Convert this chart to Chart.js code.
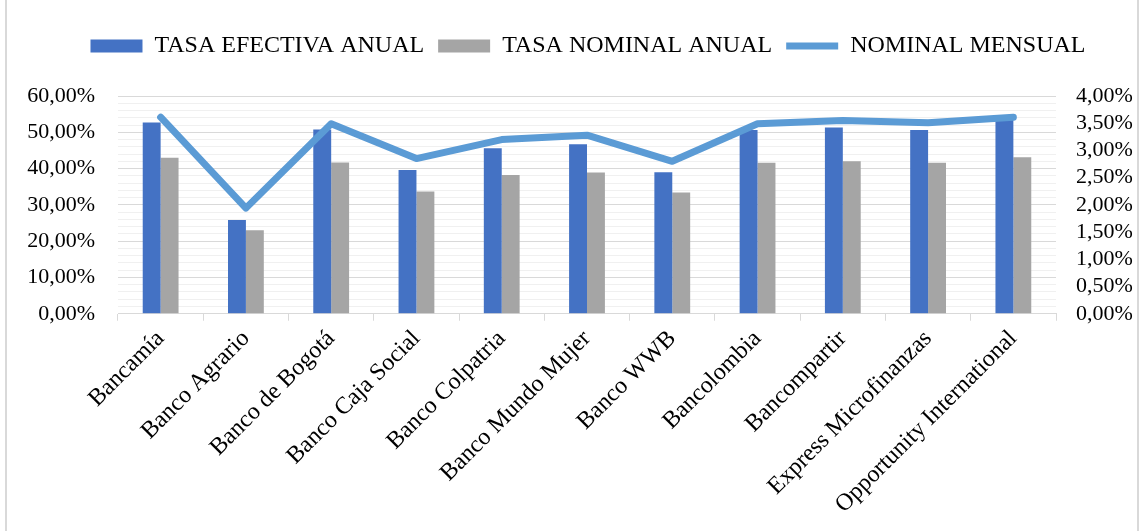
<!DOCTYPE html>
<html>
<head>
<meta charset="utf-8">
<script src="https://cdn.jsdelivr.net/npm/chart.js@4.4.1/dist/chart.umd.min.js"></script>
<style>
  body { margin: 0; background: #fff; }
  .frame { position: absolute; left: 5px; top: -2px; width: 1134px; height: 540px; border: 2px solid #d9d9d9; box-sizing: border-box; }
  .wrap { position: absolute; left: 0; top: 0; width: 1146px; height: 531px; }
</style>
</head>
<body>
<div class="frame"></div>
<div class="wrap"><canvas id="chart"></canvas></div>
<script>
// data
const banks = ['Bancamía', 'Banco Agrario', 'Banco de Bogotá', 'Banco Caja Social', 'Banco Colpatria',
    'Banco Mundo Mujer', 'Banco WWB', 'Bancolombia', 'Bancompartir', 'Express Microfinanzas', 'Opportunity International']
const tasaEfectivaAnual = [52.7, 25.8, 50.8, 39.6, 45.6, 46.7, 39.0, 50.6, 51.3, 50.6, 53.4]
const tasaNominalAnual = [43.0, 23.0, 41.7, 33.7, 38.2, 38.9, 33.4, 41.6, 42.0, 41.6, 43.1]
const nominalMensual = [3.61, 1.94, 3.49, 2.85, 3.20, 3.28, 2.80, 3.49, 3.55, 3.51, 3.61]
const leftTicks = [0, 10, 20, 30, 40, 50, 60]
const rightTicks = [0, 0.5, 1, 1.5, 2, 2.5, 3, 3.5, 4]

const fmt = v => v.toFixed(2).replace('.', ',') + '%'
const serif = 'Liberation Serif'

// extra room under the legend, and nudge it a bit right
const legendTweak = {
    id: 'legendTweak',
    beforeInit(chart) {
        const fit = chart.legend.fit
        chart.legend.fit = function () {
            fit.bind(chart.legend)()
            this.height += 28
        }
    },
    afterUpdate(chart) {
        chart.legend.left += 10
        chart.legend.right += 10
    }
}

const ctx = document.getElementById('chart').getContext('2d')
new Chart(ctx, {
    type: 'bar',
    data: {
        labels: banks,
        datasets: [{
            label: 'TASA EFECTIVA ANUAL',
            data: tasaEfectivaAnual,
            backgroundColor: '#4472C4',
            borderWidth: 0,
            pointStyle: 'rect',
            yAxisID: 'y',
            order: 1
        }, {
            label: 'TASA NOMINAL ANUAL',
            data: tasaNominalAnual,
            backgroundColor: '#A5A5A5',
            borderWidth: 0,
            pointStyle: 'rect',
            yAxisID: 'y',
            order: 1
        }, {
            type: 'line',
            label: 'NOMINAL MENSUAL',
            data: nominalMensual,
            borderColor: '#5B9BD5',
            backgroundColor: '#5B9BD5',
            borderWidth: 7,
            borderCapStyle: 'round',
            borderJoinStyle: 'round',
            pointRadius: 0,
            pointStyle: 'line',
            tension: 0,
            yAxisID: 'y1',
            order: 0
        }]
    },
    options: {
        responsive: true,
        maintainAspectRatio: false,
        animation: false,
        categoryPercentage: 0.42,
        barPercentage: 1,
        layout: { padding: { left: 10, right: 0, top: 20, bottom: 8 } },
        plugins: {
            tooltip: { enabled: false },
            legend: {
                position: 'top',
                labels: {
                    usePointStyle: true,
                    pointStyleWidth: 52,
                    boxHeight: 13,
                    padding: 14,
                    color: '#000',
                    font: { family: serif, size: 24 },
                    sort: (a, b) => a.datasetIndex - b.datasetIndex
                }
            }
        },
        scales: {
            x: {
                offset: true,
                grid: { offset: true, drawOnChartArea: false, drawTicks: true, tickLength: 7, color: '#d9d9d9' },
                border: { color: '#d9d9d9' },
                ticks: { maxRotation: 45, minRotation: 45, color: '#000', padding: 4, font: { family: serif, size: 24 } }
            },
            y: {
                position: 'left',
                min: 0,
                max: 60,
                afterBuildTicks: axis => {
                    const t = []
                    for (let v = 0; v <= 60; v += 2) t.push({ value: v })
                    axis.ticks = t
                },
                afterFit: axis => { axis.width = 108 },
                grid: {
                    drawTicks: false,
                    color: c => leftTicks.includes(c.tick.value) ? '#d9d9d9' : '#f0f0f0'
                },
                border: { display: false },
                ticks: {
                    autoSkip: false,
                    padding: 23,
                    color: '#000',
                    font: { family: serif, size: 22 },
                    callback: v => leftTicks.includes(v) ? fmt(v) : ''
                }
            },
            y1: {
                position: 'right',
                min: 0,
                max: 4,
                afterBuildTicks: axis => { axis.ticks = rightTicks.map(v => ({ value: v })) },
                afterFit: axis => { axis.width = 90 },
                grid: { display: false, drawTicks: false },
                border: { display: false },
                ticks: {
                    autoSkip: false,
                    padding: 20,
                    color: '#000',
                    font: { family: serif, size: 22 },
                    callback: v => fmt(v)
                }
            }
        }
    },
    plugins: [legendTweak]
})
</script>
</body>
</html>
